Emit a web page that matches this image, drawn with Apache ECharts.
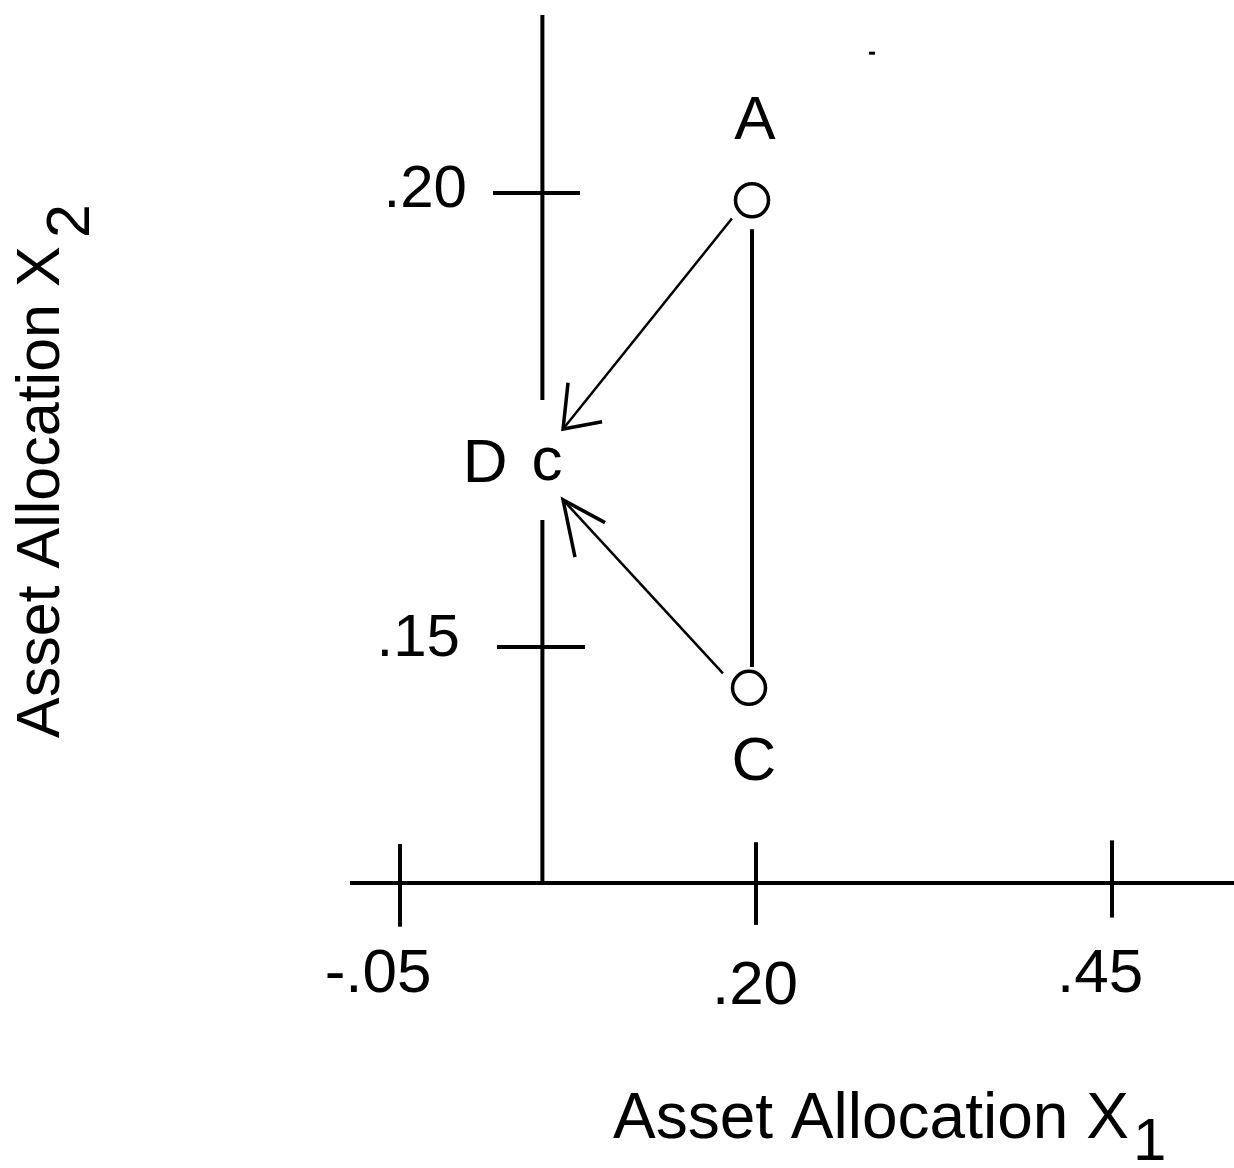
<!DOCTYPE html>
<html>
<head>
<meta charset="utf-8">
<script src="https://cdn.jsdelivr.net/npm/echarts@6/dist/echarts.min.js"></script>
<style>
html,body{margin:0;padding:0;background:#fff;}
#chart{width:1234px;height:1168px;}
</style>
</head>
<body>
<div id="chart"></div>
<script>
// ---- Data (values in chart units) ----
const xTickValues = [-0.05, 0.20, 0.45];
const xTickLabels = ['-.05', '.20', '.45'];
const xTickLabelPos = [[-0.0654, 0.1139], [0.1993, 0.1126], [0.4416, 0.1139]];
const yTickValues = [0.15, 0.20];
const yTickLabels = ['.15', '.20'];
const yTickLabelPos = [[-0.0079, 0.1508], [-0.0030, 0.2003]];

// axis lines
const xAxisLine = [[-0.0851, 0.1240], [0.5357, 0.1240]];
const yAxisUpper = [[0.05, 0.2196], [0.05, 0.1772]];
const yAxisLower = [[0.05, 0.1640], [0.05, 0.1240]];
// tick marks
const xTickMarks = [
  [[-0.05, 0.1283], [-0.05, 0.1192]],
  [[0.20, 0.1285], [0.20, 0.1194]],
  [[0.45, 0.1287], [0.45, 0.1202]]
];
const yTickMarks = [
  [[0.0153, 0.20], [0.0764, 0.20]],
  [[0.0181, 0.15], [0.0799, 0.15]]
];
// points
const pointNames = ['A', 'C'];
const pointValues = [[0.1972, 0.1992], [0.1951, 0.1455]];
const pointD = [0.0532, 0.1703];
const pointLabels = [
  {text: 'A', value: [0.1993, 0.2078]},
  {text: 'C', value: [0.1986, 0.1372]},
  {text: 'D', value: [0.0097, 0.1700]}
];
// A–C connection
const lineAC = [[0.1972, 0.1960], [0.1972, 0.1478]];
// arrows
const arrowAD = [[0.1831, 0.1972], [0.0645, 0.1740]];
const arrowADHead = [[0.0680, 0.1791], [0.0645, 0.1740], [0.0919, 0.1748]];
const arrowCD = [[0.1768, 0.1471], [0.0645, 0.1662]];
const arrowCDHead = [[0.0729, 0.1599], [0.0645, 0.1662], [0.0940, 0.1637]];
// stray dot
const strayDot = [0.2815, 0.2154];

const xTitle = 'Asset Allocation X';
const xTitleSub = '1';
const yTitle = 'Asset Allocation X';
const yTitleSub = '2';

const FONT = '"Liberation Sans", Arial, sans-serif';

// pixel scale of the drawing (layout)
const PX_PER_X = 1424;   // px per unit on x
const PX_PER_Y = 9080;   // px per unit on y
const X0_PX = 400;       // pixel of x = -0.05
const Y0_PX = 647;       // pixel of y = 0.15
const W = 1234, H = 1168;

function seg(data, width) {
  return {
    type: 'line', data: data, clip: false, silent: true, symbol: 'none',
    animation: false,
    lineStyle: {color: '#000', width: width, cap: 'butt', join: 'miter', opacity: 1}
  };
}
function textSeries(items, fontSize, align) {
  return {
    type: 'scatter', clip: false, silent: true, animation: false,
    symbolSize: 1, itemStyle: {color: 'rgba(0,0,0,0)', opacity: 1},
    data: items.map(it => ({value: it.value, name: it.text})),
    label: {
      show: true, position: 'inside', formatter: p => p.name,
      color: '#000', fontFamily: FONT, fontSize: fontSize, opacity: 1,
      align: align || 'center', verticalAlign: 'middle'
    }
  };
}

const series = [];
series.push(seg(xAxisLine, 4));
series.push(seg(yAxisUpper, 4));
series.push(seg(yAxisLower, 4));
xTickMarks.forEach(t => series.push(seg(t, 4)));
yTickMarks.forEach(t => series.push(seg(t, 4)));
series.push(seg(lineAC, 4));
series.push(seg(arrowAD, 2.5));
series.push(seg(arrowADHead, 3.5));
series.push(seg(arrowCD, 2.5));
series.push(seg(arrowCDHead, 3.5));

// circle markers A, C
series.push({
  type: 'scatter', clip: false, silent: true, animation: false,
  symbol: 'circle', symbolSize: 33,
  itemStyle: {color: '#fff', borderColor: '#000', borderWidth: 3.5, opacity: 1},
  data: pointValues.map((v, i) => ({value: v, name: pointNames[i]}))
});
// "c" marker at D
series.push(textSeries([{text: 'c', value: pointD}], 62));
// point labels
series.push(textSeries(pointLabels, 62));
// tick labels
series.push(textSeries(xTickValues.map((v, i) => ({text: xTickLabels[i], value: xTickLabelPos[i]})), 62));
series.push(textSeries(yTickValues.map((v, i) => ({text: yTickLabels[i], value: yTickLabelPos[i]})), 60, 'right'));
// stray dot
series.push({
  type: 'scatter', clip: false, silent: true, animation: false,
  symbol: 'rect', symbolSize: [6, 3], itemStyle: {color: '#000', opacity: 1},
  data: [strayDot]
});

const chart = echarts.init(document.getElementById('chart'), null, {renderer: 'canvas'});
chart.setOption({
  backgroundColor: '#fff',
  animation: false,
  grid: {left: 0, right: 0, top: 0, bottom: 0},
  xAxis: {type: 'value', show: false,
    min: xTickValues[0] - X0_PX / PX_PER_X,
    max: xTickValues[0] + (W - X0_PX) / PX_PER_X},
  yAxis: {type: 'value', show: false,
    min: yTickValues[0] - (H - Y0_PX) / PX_PER_Y,
    max: yTickValues[0] + Y0_PX / PX_PER_Y},
  graphic: [
    {type: 'text', left: 613, top: 1088,
      style: {text: xTitle, fontFamily: FONT, fontSize: 64, fill: '#000'}},
    {type: 'text', x: 1133, y: 1113,
      style: {text: xTitleSub, fontFamily: FONT, fontSize: 60, fill: '#000'}},
    {type: 'text', x: 42, y: 738, rotation: Math.PI / 2,
      style: {text: yTitle, fontFamily: FONT, fontSize: 61, fill: '#000',
        align: 'left', verticalAlign: 'middle'}},
    {type: 'text', x: 72, y: 238, rotation: Math.PI / 2,
      style: {text: yTitleSub, fontFamily: FONT, fontSize: 61, fill: '#000',
        align: 'left', verticalAlign: 'middle'}}
  ],
  series: series
});
</script>
</body>
</html>
